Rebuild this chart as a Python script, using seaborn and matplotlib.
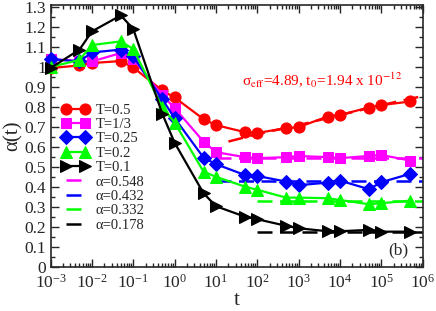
import matplotlib
matplotlib.use("Agg")
import matplotlib.pyplot as plt
import matplotlib.ticker as mticker
import pandas as pd
import seaborn as sns

# time points (log spaced)
t_all = [1e-3, 5e-3, 1e-2, 5e-2, 1e-1, 0.5, 1, 5, 10, 50, 100, 500, 1e3, 5e3, 1e4, 5e4, 1e5, 5e5]

alpha_T05 = [0.995, 1.008, 1.02, 1.03, 0.998, 0.883, 0.848, 0.74, 0.71, 0.675, 0.671,
             0.695, 0.70, 0.753, 0.761, 0.798, 0.81, 0.828]
alpha_T033 = [1.04, 1.03, 1.028, 1.07, 1.04, 0.86, 0.795, 0.628, 0.575, 0.55, 0.545,
              0.55, 0.556, 0.55, 0.545, 0.556, 0.561, 0.533]
alpha_T025 = [1.04, 1.028, 1.073, 1.087, 1.053, 0.84, 0.745, 0.548, 0.515, 0.461, 0.456,
              0.428, 0.41, 0.423, 0.433, 0.39, 0.425, 0.467]
alpha_T02 = [1.0, 1.036, 1.11, 1.128, 1.09, 0.80, 0.723, 0.478, 0.452, 0.403, 0.387,
             0.348, 0.348, 0.345, 0.336, 0.315, 0.32, 0.333]
alpha_T01 = [0.995, 1.087, 1.178, 1.258, 1.19, 0.768, 0.622, 0.37, 0.305, 0.253, 0.24,
             0.207, 0.195, 0.18, 0.18, 0.187, 0.178, 0.178]

# fitted curve for T=0.5
fit_t = [20, 100, 1e3, 1e4, 1e5, 1e6]
fit_alpha = [0.628, 0.665, 0.71, 0.76, 0.81, 0.855]

# plateau values and where the dashed lines start
plateau_labels = ["α=0.548", "α=0.432", "α=0.332", "α=0.178"]
plateau_values = [0.548, 0.432, 0.332, 0.178]
plateau_start = [10, 10, 100, 100]
t_end = 1e6

series_labels = ["T=0.5", "T=1/3", "T=0.25", "T=0.2", "T=0.1"]
series_values = [alpha_T05, alpha_T033, alpha_T025, alpha_T02, alpha_T01]
colors = ["#ff0000", "#ff00ff", "#0000ff", "#00ff00", "#000000"]
markers = ["o", "s", "D", "^", ">"]
msizes = [8, 7, 7, 8.5, 9]

sns.set_style("ticks")
plt.rcParams["font.family"] = ["Liberation Serif", "DejaVu Serif"]
plt.rcParams["mathtext.fontset"] = "stix"

fig = plt.figure(figsize=(4.36, 3.11), dpi=100)
ax = fig.add_axes([0.116, 0.1405, 0.8535, 0.8435])

handles = []
for label, vals, c, m, ms in zip(series_labels, series_values, colors, markers, msizes):
    df = pd.DataFrame({"t": t_all, "alpha": vals})
    sns.lineplot(data=df, x="t", y="alpha", ax=ax, color=c, marker=m, markersize=ms,
                 markeredgecolor=c, linewidth=1.6, clip_on=False, zorder=3)
    handles.append(ax.lines[-1])
    handles[-1].set_label(label)

df_fit = pd.DataFrame({"t": fit_t, "alpha": fit_alpha})
sns.lineplot(data=df_fit, x="t", y="alpha", ax=ax, color="#ff0000", linewidth=1.8, zorder=2)
ax.lines[-1].set_dashes((6, 3))

for label, val, start, c in zip(plateau_labels, plateau_values, plateau_start, colors[1:]):
    df_p = pd.DataFrame({"t": [start, t_end], "alpha": [val, val]})
    sns.lineplot(data=df_p, x="t", y="alpha", ax=ax, color=c, linewidth=1.8, zorder=2)
    ax.lines[-1].set_dashes((6, 3))
    ax.lines[-1].set_label(label)
    handles.append(ax.lines[-1])

ax.set_xscale("log")
ax.set_xlim(1e-3, 1e6)
ax.set_ylim(0, 1.31)
ax.xaxis.set_major_locator(mticker.LogLocator(base=10, numticks=20))
ax.xaxis.set_minor_locator(mticker.LogLocator(base=10, subs=range(2, 10), numticks=20))
ax.xaxis.set_minor_formatter(mticker.NullFormatter())
ax.yaxis.set_major_locator(mticker.MultipleLocator(0.1))
ax.yaxis.set_minor_locator(mticker.MultipleLocator(0.05))
ax.yaxis.set_major_formatter(mticker.FuncFormatter(lambda v, p: f"{v:g}"))
ax.tick_params(which="both", direction="in", top=True, right=True, labelsize=12.5, width=1)
ax.tick_params(axis="x", which="major", pad=5)
ax.tick_params(which="major", length=6)
ax.tick_params(which="minor", length=3)
for s in ax.spines.values():
    s.set_linewidth(1.2)

ax.set_xlabel("t", fontsize=15, labelpad=-1)
ax.set_ylabel("α(t)", fontsize=15, labelpad=1)

ax.text(0.514, 0.714, "σ$_{\\rm eff}$=4.89, t$_0$=1.94 x 10$^{-12}$", transform=ax.transAxes,
        color="#ff0000", fontsize=11, ha="left", va="center")
ax.text(0.935, 0.066, "(b)", transform=ax.transAxes, fontsize=12.5, ha="center", va="center")

ax.legend(handles=handles, loc="center left", bbox_to_anchor=(0.03, 0.38), frameon=False,
          numpoints=2, fontsize=10.5, labelspacing=0.08, handlelength=1.9, handletextpad=0.4,
          borderpad=0, borderaxespad=0)

fig.savefig("out.png", dpi=100)
